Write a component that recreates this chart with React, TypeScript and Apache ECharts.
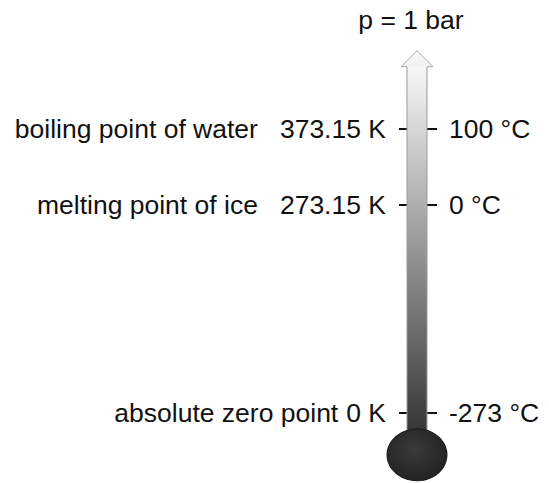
import React, { useEffect, useRef } from "react";
import * as echarts from "echarts";

// Tick values on the Kelvin scale
const kelvinValues = [0, 273.15, 373.15];
const kelvinLabels = ["0 K", "273.15 K", "373.15 K"];
const celsiusLabels = ["-273 °C", "0 °C", "100 °C"];
const descriptions = ["absolute zero point", "melting point of ice", "boiling point of water"];
// thermometer: bulb centre, top of tube, arrow tip (in K)
const thermometer = [-55, 455, 476];
const pressureLabel = "p = 1 bar";

const FONT = 'Arial, "Liberation Sans", sans-serif';
const FS = 26.5;

export default function App() {
  const ref = useRef<HTMLDivElement>(null);

  useEffect(() => {
    if (!ref.current) return;
    const chart = echarts.init(ref.current, undefined, { renderer: "svg" });

    const idx = (v: number) => kelvinValues.findIndex((k) => Math.abs(k - v) < 1e-6);

    const option: any = {
      animation: false,
      backgroundColor: "#ffffff",
      textStyle: { fontFamily: FONT },
      grid: { left: 407, right: 122, top: 47.7, bottom: 9.1 },
      xAxis: { type: "value", min: 0, max: 1, show: false },
      yAxis: [
        {
          type: "value",
          position: "left",
          min: -80,
          max: 480,
          offset: 2,
          splitLine: { show: false },
          axisLine: { show: false },
          axisTick: {
            show: true,
            customValues: kelvinValues,
            length: 8,
            lineStyle: { color: "#111", width: 2 },
          },
          axisLabel: {
            customValues: kelvinValues,
            margin: 19,
            formatter: (v: number) => {
              const i = idx(v);
              if (i < 0) return "";
              const d = i === 0 ? "ds" : "d";
              return `{${d}|${descriptions[i]}}{k|${kelvinLabels[i]}}`;
            },
            rich: {
              d: { fontSize: FS, fontFamily: FONT, color: "#111", padding: [0, 22, 0, 0] },
              ds: { fontSize: FS, fontFamily: FONT, color: "#111", padding: [0, 8, 0, 0] },
              k: { fontSize: FS, fontFamily: FONT, color: "#111" },
            },
          },
        },
        {
          type: "value",
          position: "right",
          min: -80,
          max: 480,
          splitLine: { show: false },
          axisLine: { show: false },
          axisTick: {
            show: true,
            customValues: kelvinValues,
            length: 10,
            lineStyle: { color: "#111", width: 2 },
          },
          axisLabel: {
            customValues: kelvinValues,
            margin: 22,
            fontSize: FS,
            fontFamily: FONT,
            color: "#111",
            formatter: (v: number) => {
              const i = idx(v);
              return i < 0 ? "" : celsiusLabels[i];
            },
          },
        },
      ],
      graphic: [
        {
          type: "text",
          x: 411,
          y: 20,
          style: {
            text: pressureLabel,
            textAlign: "center",
            textVerticalAlign: "middle",
            fontSize: FS,
            fontFamily: FONT,
            fill: "#111",
          },
        },
      ],
      series: [
        {
          type: "custom",
          clip: false,
          silent: true,
          data: [[0.5, thermometer[0], thermometer[1], thermometer[2]]],
          encode: { x: 0, y: [1, 2, 3] },
          renderItem: (params: any, api: any) => {
            const cs = params.coordSys;
            const cx = cs.x + cs.width / 2;
            const yBulb = api.coord([0.5, api.value(1)])[1];
            const yTop = api.coord([0.5, api.value(2)])[1];
            const yTip = api.coord([0.5, api.value(3)])[1];
            const half = 10;
            const head = 16;
            return {
              type: "group",
              children: [
                {
                  type: "rect",
                  shape: { x: cx - half, y: yTop, width: half * 2, height: yBulb - yTop },
                  style: {
                    fill: new echarts.graphic.LinearGradient(0, 0, 0, 1, [
                      { offset: 0, color: "#f7f7f7" },
                      { offset: 1, color: "#2a2a2a" },
                    ]),
                  },
                },
                {
                  type: "line",
                  shape: { x1: cx - half, y1: yTop, x2: cx - half, y2: yBulb },
                  style: { stroke: "#9a9a9a", lineWidth: 1 },
                },
                {
                  type: "line",
                  shape: { x1: cx + half, y1: yTop, x2: cx + half, y2: yBulb },
                  style: { stroke: "#9a9a9a", lineWidth: 1 },
                },
                {
                  type: "polygon",
                  shape: {
                    points: [
                      [cx - head, yTop],
                      [cx, yTip],
                      [cx + head, yTop],
                    ],
                  },
                  style: {
                    fill: new echarts.graphic.LinearGradient(0, 0, 0, 1, [
                      { offset: 0, color: "#fbfbfb" },
                      { offset: 1, color: "#f0f0f0" },
                    ]),
                  },
                },
                {
                  type: "polyline",
                  shape: {
                    points: [
                      [cx - half, yTop],
                      [cx - head, yTop],
                      [cx, yTip],
                      [cx + head, yTop],
                      [cx + half, yTop],
                    ],
                  },
                  style: { stroke: "#a8a8a8", lineWidth: 1, fill: null },
                },
                {
                  type: "circle",
                  x: cx,
                  y: yBulb,
                  scaleX: 1.15,
                  shape: { cx: 0, cy: 0, r: 26 },
                  style: {
                    fill: new echarts.graphic.RadialGradient(0.45, 0.4, 0.7, [
                      { offset: 0, color: "#3a3a3a" },
                      { offset: 1, color: "#1f1f1f" },
                    ]),
                    stroke: "#1a1a1a",
                    lineWidth: 1,
                  },
                },
              ],
            };
          },
        },
      ],
    };

    chart.setOption(option);
    return () => chart.dispose();
  }, []);

  return (
    <div
      ref={ref}
      style={{ position: "absolute", left: 0, top: 0, width: 549, height: 483 }}
    />
  );
}
